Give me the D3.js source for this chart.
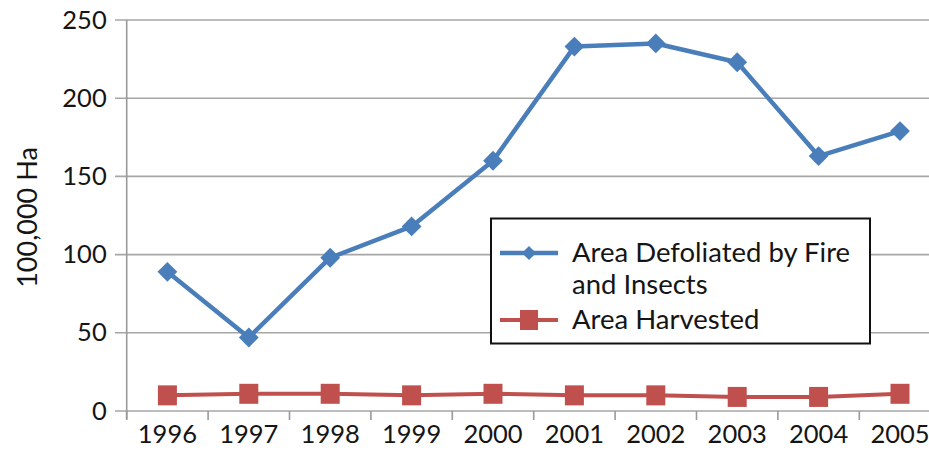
<!DOCTYPE html>
<html>
<head>
<meta charset="utf-8">
<script src="https://cdn.jsdelivr.net/npm/d3@7"></script>
<style>
  html, body { margin: 0; padding: 0; background: #fff; }
  svg { display: block; font-family: Lato, "Open Sans", sans-serif; }
</style>
</head>
<body>
<svg id="chart" width="929" height="457"></svg>
<script>
// Years on the category axis
const years = ["1996", "1997", "1998", "1999", "2000", "2001", "2002", "2003", "2004", "2005"];
// Area defoliated by fire and insects (100,000 ha)
const defoliated = [89, 47, 98, 118, 160, 233, 235, 223, 163, 179];
// Area harvested (100,000 ha)
const harvested = [10, 11, 11, 10, 11, 10, 10, 9, 9, 11];
// Value axis ticks
const yTicks = [0, 50, 100, 150, 200, 250];

const seriesNames = ["Area Defoliated by Fire|and Insects", "Area Harvested"];
const blue = "#4a7ebb", red = "#c0504d", ink = "#151515";

const svg = d3.select("#chart");
const left = 126.7, bandW = 81.4;
const x = d3.scaleBand().domain(years).range([left, left + bandW * years.length]).padding(0);
const y = d3.scaleLinear().domain([0, 250]).range([411, 20]);

// Horizontal gridlines
svg.append("g").selectAll("line").data(yTicks).join("line")
  .attr("x1", 115).attr("x2", 929)
  .attr("y1", d => y(d)).attr("y2", d => y(d))
  .attr("stroke", "#a6a6a6").attr("stroke-width", 1.6);

// Value axis
const yAxis = d3.axisLeft(y).tickValues(yTicks).tickSize(0).tickPadding(20);
const gy = svg.append("g").attr("transform", `translate(${left},0)`).call(yAxis);
gy.select(".domain").remove();
gy.selectAll("text").attr("font-size", 25.5).attr("fill", ink)
  .attr("font-family", "Lato, 'Open Sans', sans-serif");
svg.append("line").attr("x1", left).attr("x2", left).attr("y1", y(250)).attr("y2", 419)
  .attr("stroke", "#999").attr("stroke-width", 1.6);

// Category axis with ticks between categories
const xAxis = d3.axisBottom(x).tickSize(0).tickPadding(14);
const gx = svg.append("g").attr("transform", `translate(0,${y(0)})`).call(xAxis);
gx.select(".domain").remove();
gx.selectAll("text").attr("font-size", 25.5).attr("fill", ink)
  .attr("font-family", "Lato, 'Open Sans', sans-serif");
const bounds = years.map(d => x(d)).slice(1).concat([left]);
svg.append("g").selectAll("line").data(bounds).join("line")
  .attr("x1", d => d).attr("x2", d => d)
  .attr("y1", y(0)).attr("y2", y(0) + 9)
  .attr("stroke", "#999").attr("stroke-width", 1.6);

// Axis title
svg.append("text")
  .attr("transform", `translate(37,${(y(0) + y(250)) / 2 + 2}) rotate(-90)`)
  .attr("text-anchor", "middle")
  .attr("font-size", 27).attr("fill", ink)
  .text("100,000 Ha");

const cx = i => x(years[i]) + x.bandwidth() / 2;
const line = d3.line().x((d, i) => cx(i)).y(d => y(d));

// Harvested series
svg.append("path").datum(harvested).attr("d", line)
  .attr("fill", "none").attr("stroke", red).attr("stroke-width", 4);
svg.append("g").selectAll("rect").data(harvested).join("rect")
  .attr("x", (d, i) => cx(i) - 9.5).attr("y", d => y(d) - 10)
  .attr("width", 19).attr("height", 20).attr("fill", red);

// Defoliated series
svg.append("path").datum(defoliated).attr("d", line)
  .attr("fill", "none").attr("stroke", blue).attr("stroke-width", 4.5)
  .attr("stroke-linejoin", "round");
svg.append("g").selectAll("rect").data(defoliated).join("rect")
  .attr("x", -7).attr("y", -7).attr("width", 14).attr("height", 14)
  .attr("transform", (d, i) => `translate(${cx(i)},${y(d)}) rotate(45)`)
  .attr("fill", blue);

// Legend
const lg = svg.append("g");
lg.append("rect").attr("x", 491).attr("y", 218.5).attr("width", 379).attr("height", 125)
  .attr("fill", "#fff").attr("stroke", "#111").attr("stroke-width", 2);
lg.append("line").attr("x1", 500).attr("x2", 558).attr("y1", 253).attr("y2", 253)
  .attr("stroke", blue).attr("stroke-width", 4.5);
lg.append("rect").attr("x", -5).attr("y", -5).attr("width", 10).attr("height", 10)
  .attr("transform", "translate(529,253) rotate(45)").attr("fill", blue);
lg.append("line").attr("x1", 500).attr("x2", 558).attr("y1", 320).attr("y2", 320)
  .attr("stroke", red).attr("stroke-width", 4);
lg.append("rect").attr("x", 520).attr("y", 310).attr("width", 18).attr("height", 20).attr("fill", red);

const l1 = seriesNames[0].split("|");
lg.append("text").attr("x", 572).attr("y", 262).attr("font-size", 27.5).attr("fill", ink)
  .text(l1[0]);
lg.append("text").attr("x", 572).attr("y", 294).attr("font-size", 27.5).attr("fill", ink)
  .text(l1[1]);
lg.append("text").attr("x", 572).attr("y", 329).attr("font-size", 27.5).attr("fill", ink)
  .text(seriesNames[1]);
</script>
</body>
</html>
